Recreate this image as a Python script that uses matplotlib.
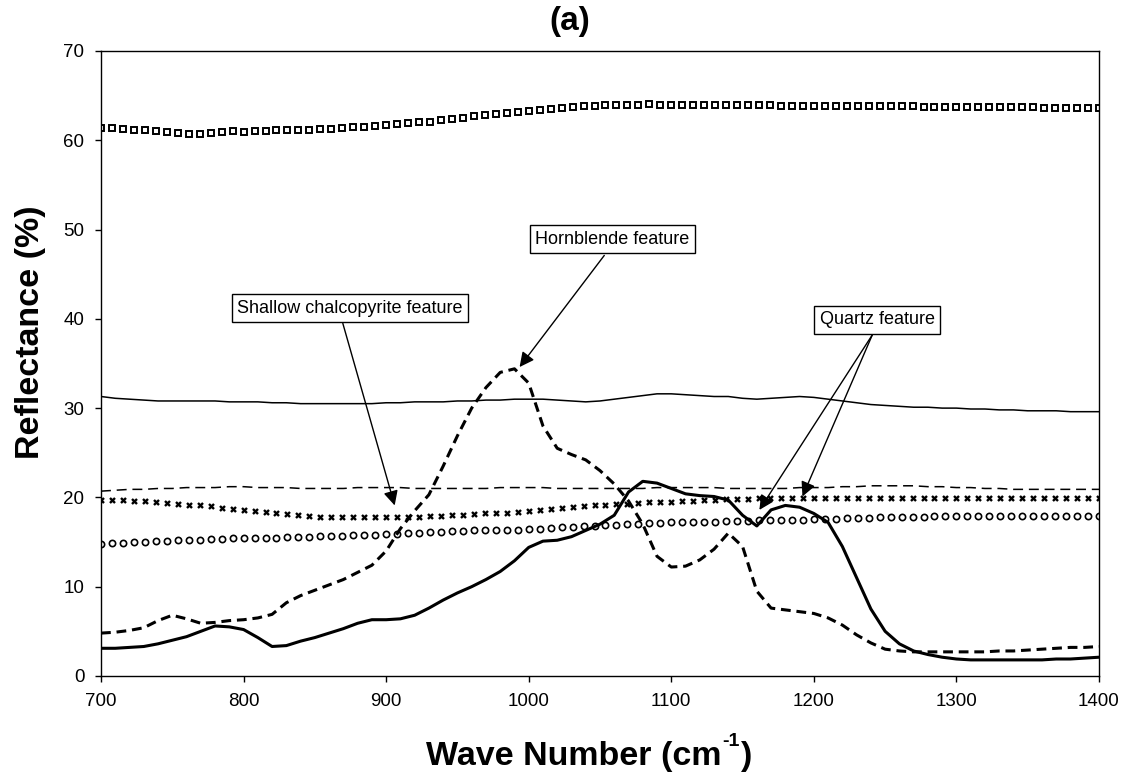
"""
Reflectance spectra (a): marker series and line series with feature callouts.
"""
import numpy as np
import matplotlib.pyplot as plt

plt.rcParams['font.family'] = ['Liberation Sans', 'DejaVu Sans']

# marker series, sampled every ~7.7 cm-1 (92 points from 700 to 1400)
wn_m = np.linspace(700, 1400, 92)
squares = [
    61.4, 61.4, 61.3, 61.2, 61.1, 61.0, 60.9, 60.8, 60.75, 60.7,
    60.8, 60.9, 61.0, 60.9, 61.0, 61.0, 61.1, 61.1, 61.2, 61.2,
    61.3, 61.3, 61.4, 61.5, 61.5, 61.6, 61.7, 61.8, 61.9, 62.0,
    62.1, 62.3, 62.4, 62.5, 62.7, 62.8, 62.9, 63.1, 63.2, 63.3,
    63.4, 63.5, 63.6, 63.7, 63.8, 63.8, 63.9, 64.0, 64.0, 64.0,
    64.1, 64.0, 64.0, 64.0, 64.0, 64.0, 64.0, 63.9, 63.9, 63.9,
    63.9, 63.9, 63.8, 63.8, 63.8, 63.8, 63.8, 63.8, 63.8, 63.8,
    63.8, 63.8, 63.8, 63.8, 63.8, 63.7, 63.7, 63.7, 63.7, 63.7,
    63.7, 63.7, 63.7, 63.7, 63.7, 63.7, 63.6, 63.6, 63.6, 63.6,
    63.6, 63.6,
]
crosses = [
    19.7, 19.7, 19.7, 19.6, 19.6, 19.5, 19.4, 19.3, 19.2, 19.1,
    19.0, 18.8, 18.7, 18.6, 18.5, 18.4, 18.2, 18.1, 18.0, 17.9,
    17.8, 17.8, 17.8, 17.8, 17.8, 17.8, 17.8, 17.8, 17.8, 17.8,
    17.9, 17.9, 18.0, 18.0, 18.1, 18.2, 18.2, 18.3, 18.4, 18.5,
    18.6, 18.7, 18.8, 18.9, 19.0, 19.1, 19.2, 19.3, 19.3, 19.4,
    19.5, 19.5, 19.5, 19.6, 19.6, 19.7, 19.7, 19.8, 19.8, 19.8,
    19.9, 19.9, 19.9, 19.9, 19.9, 19.9, 19.9, 19.9, 19.9, 19.9,
    19.9, 19.9, 19.9, 19.9, 19.9, 19.9, 19.9, 19.9, 19.9, 19.9,
    19.9, 19.9, 19.9, 19.9, 19.9, 19.9, 19.9, 19.9, 19.9, 19.9,
    19.9, 19.9,
]
circles = [
    14.8, 14.9, 14.9, 15.0, 15.0, 15.1, 15.1, 15.2, 15.2, 15.2,
    15.3, 15.3, 15.4, 15.4, 15.5, 15.5, 15.5, 15.6, 15.6, 15.6,
    15.7, 15.7, 15.7, 15.8, 15.8, 15.8, 15.9, 15.9, 16.0, 16.0,
    16.1, 16.1, 16.2, 16.2, 16.3, 16.3, 16.3, 16.4, 16.4, 16.5,
    16.5, 16.6, 16.7, 16.7, 16.8, 16.8, 16.9, 16.9, 17.0, 17.0,
    17.1, 17.1, 17.2, 17.2, 17.3, 17.3, 17.3, 17.4, 17.4, 17.4,
    17.5, 17.5, 17.5, 17.5, 17.5, 17.6, 17.6, 17.6, 17.7, 17.7,
    17.7, 17.8, 17.8, 17.8, 17.8, 17.8, 17.9, 17.9, 17.9, 17.9,
    17.9, 17.9, 17.9, 17.9, 17.9, 17.9, 17.9, 17.9, 17.9, 17.9,
    17.9, 17.9,
]

# line series, every 10 cm-1
wn = np.arange(700, 1401, 10)
thin_solid = [
    31.3, 31.1, 31.0, 30.9, 30.8, 30.8, 30.8, 30.8, 30.8, 30.7,
    30.7, 30.7, 30.6, 30.6, 30.5, 30.5, 30.5, 30.5, 30.5, 30.5,
    30.6, 30.6, 30.7, 30.7, 30.7, 30.8, 30.8, 30.9, 30.9, 31.0,
    31.0, 31.0, 30.9, 30.8, 30.7, 30.8, 31.0, 31.2, 31.4, 31.6,
    31.6, 31.5, 31.4, 31.3, 31.3, 31.1, 31.0, 31.1, 31.2, 31.3,
    31.2, 31.0, 30.8, 30.6, 30.4, 30.3, 30.2, 30.1, 30.1, 30.0,
    30.0, 29.9, 29.9, 29.8, 29.8, 29.7, 29.7, 29.7, 29.6, 29.6,
    29.6,
]
thin_dashed = [
    20.7, 20.8, 20.9, 20.9, 21.0, 21.0, 21.1, 21.1, 21.1, 21.2,
    21.2, 21.1, 21.1, 21.1, 21.0, 21.0, 21.0, 21.0, 21.1, 21.1,
    21.1, 21.1, 21.0, 21.0, 21.0, 21.0, 21.0, 21.0, 21.1, 21.1,
    21.1, 21.1, 21.0, 21.0, 21.0, 21.0, 21.0, 21.0, 21.0, 21.1,
    21.1, 21.1, 21.1, 21.1, 21.0, 21.0, 21.0, 21.0, 21.0, 21.1,
    21.1, 21.1, 21.2, 21.2, 21.3, 21.3, 21.3, 21.3, 21.2, 21.2,
    21.1, 21.1, 21.0, 21.0, 20.9, 20.9, 20.9, 20.9, 20.9, 20.9,
    20.9,
]
quartz = [
    3.1, 3.1, 3.2, 3.3, 3.6, 4.0, 4.4, 5.0, 5.6, 5.5,
    5.2, 4.3, 3.3, 3.4, 3.9, 4.3, 4.8, 5.3, 5.9, 6.3,
    6.3, 6.4, 6.8, 7.6, 8.5, 9.3, 10.0, 10.8, 11.7, 12.9,
    14.4, 15.1, 15.2, 15.6, 16.3, 17.0, 18.0, 20.6, 21.8, 21.6,
    21.0, 20.4, 20.2, 20.1, 19.7, 18.0, 16.8, 18.6, 19.1, 18.9,
    18.2, 17.2, 14.5, 11.0, 7.5, 5.0, 3.6, 2.8, 2.4, 2.1,
    1.9, 1.8, 1.8, 1.8, 1.8, 1.8, 1.8, 1.9, 1.9, 2.0,
    2.1,
]
hornblende = [
    4.8, 4.9, 5.1, 5.4, 6.2, 6.8, 6.4, 5.9, 6.0, 6.2,
    6.3, 6.5, 6.9, 8.2, 9.0, 9.6, 10.2, 10.8, 11.6, 12.4,
    14.0, 16.5, 18.5, 20.3, 23.5, 26.9, 30.0, 32.3, 34.0, 34.4,
    32.8, 28.0, 25.5, 24.8, 24.2, 23.0, 21.5, 19.6, 17.0, 13.4,
    12.2, 12.3, 13.0, 14.2, 16.0, 14.5, 9.5, 7.6, 7.4, 7.2,
    7.0, 6.5, 5.7, 4.6, 3.7, 3.0, 2.8, 2.7, 2.7, 2.7,
    2.7, 2.7, 2.7, 2.8, 2.8, 2.9, 3.0, 3.1, 3.2, 3.2,
    3.3,
]

fig = plt.figure(figsize=(11.31, 7.83), dpi=100)
ax = fig.add_axes([0.0893, 0.1367, 0.8824, 0.7982])

ax.plot(wn_m, squares, ls='none', marker='s', ms=4.8, mfc='none', mec='black', mew=1.4)
ax.plot(wn, thin_solid, color='black', lw=1.1)
ax.plot(wn, thin_dashed, color='black', lw=1.1, dashes=(6.5, 3.8))
ax.plot(wn_m, crosses, ls='none', marker='x', ms=3.6, mec='black', mew=1.7)
ax.plot(wn_m, circles, ls='none', marker='o', ms=4.5, mfc='white', mec='black', mew=1.2)
ax.plot(wn, quartz, color='black', lw=2.2)
ax.plot(wn, hornblende, color='black', lw=2.2, dashes=(3.2, 1.9))

# callouts
box = dict(boxstyle='square,pad=0.3', fc='white', ec='black', lw=1)
arrow = dict(arrowstyle='-|>', color='black', lw=1, mutation_scale=22, shrinkA=0, shrinkB=0)

ax.annotate('', xy=(906, 19.1), xytext=(869.6, 39.5), arrowprops=arrow)
ax.annotate('', xy=(993.6, 34.6), xytext=(1053, 47.1), arrowprops=arrow)
ax.annotate('', xy=(1161.8, 18.6), xytext=(1241, 38.2), arrowprops=arrow)
ax.annotate('', xy=(1192, 20.1), xytext=(1241, 38.2), arrowprops=arrow)

ax.text(874.5, 41.2, 'Shallow chalcopyrite feature', ha='center', va='center', fontsize=13, bbox=box)
ax.text(1058.8, 48.9, 'Hornblende feature', ha='center', va='center', fontsize=13, bbox=box)
ax.text(1244.5, 39.9, 'Quartz feature', ha='center', va='center', fontsize=13, bbox=box)

ax.set_xlim(700, 1400)
ax.set_ylim(0, 70)
ax.set_xticks(range(700, 1401, 100))
ax.set_yticks(range(0, 71, 10))
ax.tick_params(direction='out', length=4, width=1, labelsize=13.5, pad=8)
for s in ax.spines.values():
    s.set_linewidth(1.0)

fig.text(0.504, 0.972, '(a)', ha='center', va='center', fontsize=24, fontweight='bold')

# x label with a plain "-1" superscript
fig.text(722 / 1131, 18 / 783, 'Wave Number (cm', ha='right', va='baseline',
         fontsize=24.5, fontweight='bold')
fig.text(722 / 1131, 37 / 783, '-1', ha='left', va='baseline', fontsize=14, fontweight='bold')
fig.text(741 / 1131, 18 / 783, ')', ha='left', va='baseline', fontsize=24.5, fontweight='bold')

fig.text(0.027, 0.576, 'Reflectance (%)', ha='center', va='center', rotation=90,
         fontsize=24.5, fontweight='bold')

fig.savefig('out.png', dpi=100)
